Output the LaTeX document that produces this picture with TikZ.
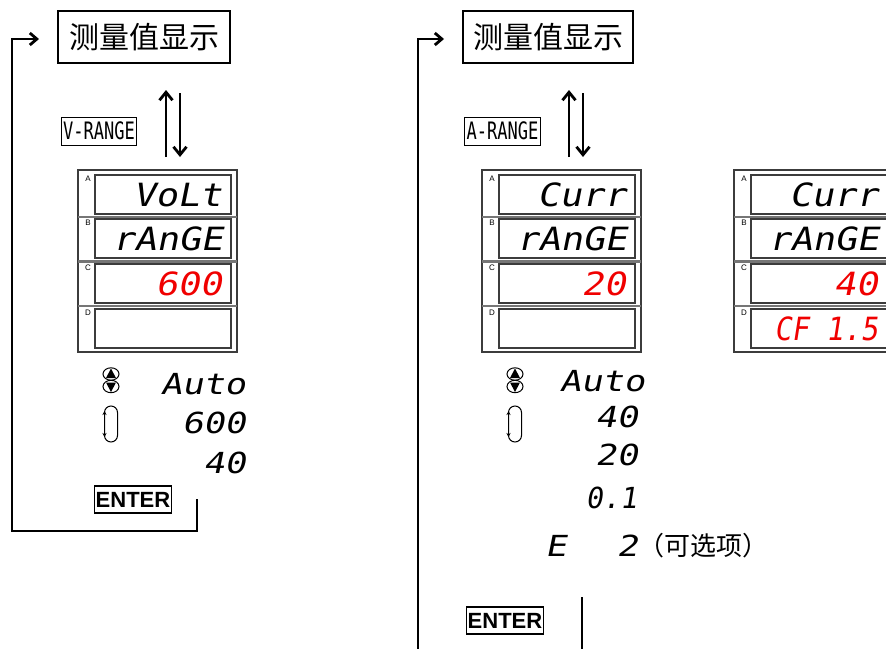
\documentclass[tikz,border=0pt]{standalone}
\usepackage{fontspec}
\setmainfont{Liberation Sans}
\newfontfamily\cjk{Noto Sans CJK SC}
\newfontfamily\segA[FakeSlant=0.2,FakeStretch=1.15]{DejaVu Sans Mono}
\newfontfamily\segB[FakeSlant=0.2,FakeStretch=1.22]{DejaVu Sans Mono}
\newfontfamily\monof{DejaVu Sans Mono}
\usetikzlibrary{arrows.meta}
\definecolor{segred}{RGB}{240,0,0}
\definecolor{frame}{RGB}{60,60,60}
\tikzset{
  titlebox/.style={draw, line width=1.1pt, minimum width=172pt, minimum height=52pt, inner sep=0pt, font=\cjk\fontsize{30}{30}\selectfont},
  rangebox/.style={draw, line width=1pt, minimum height=28pt, inner sep=2pt, font=\monof\fontsize{24}{24}\selectfont},
  enterbox/.style={draw, line width=1.1pt, minimum height=27pt, inner sep=1.5pt, font=\bfseries\fontsize{22}{22}\selectfont},
  panelout/.style={draw=frame, line width=1.4pt, minimum width=159pt, minimum height=182pt, inner sep=0pt},
  cell/.style={draw=frame, line width=1.4pt, minimum width=136pt, minimum height=39pt, inner sep=0pt},
  sepline/.style={draw=frame!70, line width=2.2pt},
  rowlab/.style={font=\fontsize{8}{8}\selectfont, inner sep=0pt},
  segtext/.style={anchor=east, inner sep=0pt, font=\segA\fontsize{32}{32}\selectfont},
  segsmall/.style={anchor=east, inner sep=0pt, font=\segB\fontsize{29}{29}\selectfont},
  flow/.style={line width=2.8pt, -{Straight Barb[length=8pt,width=13pt]}},
  fbackarrow/.style={line width=2.8pt, -{Straight Barb[length=7pt,width=12pt]}},
}
\newcommand{\mypanel}[6]{%
  \begin{scope}[xshift=#1pt]
    \node[panelout] (#2) at (157.5,261) {};
    \draw[sepline] (78,217) -- (237,217);
    \draw[sepline] (78,261.5) -- (237,261.5);
    \draw[sepline] (78,306) -- (237,306);
    \node[cell] (#2A) at (163,194.5) {};
    \node[cell] (#2B) at (163,238.5) {};
    \node[cell] (#2C) at (163,283.5) {};
    \node[cell] (#2D) at (163,328.5) {};
    \node[rowlab] (#2la) at (88,179) {A};
    \node[rowlab] (#2lb) at (88,223) {B};
    \node[rowlab] (#2lc) at (88,268) {C};
    \node[rowlab] (#2ld) at (88,313) {D};
    \node[segtext] (#2ta) at (222,195) {#3};
    \node[segtext] (#2tb) at (223,239) {#4};
    \node[segtext, text=segred] (#2tc) at (222,284) {#5};
    \node[segtext, text=segred] (#2td) at (222,329) {#6};
  \end{scope}}
\newcommand{\myicons}[2]{%
  \begin{scope}[shift={(#1,0)}]
    \draw[line width=1pt] (0,374) ellipse [x radius=8pt, y radius=6.2pt];
    \draw[line width=1pt] (0,386.5) ellipse [x radius=8pt, y radius=6.2pt];
    \fill (0,368.5) -- (-5,378) -- (5,378) -- cycle;
    \fill (0,392) -- (-5,382.5) -- (5,382.5) -- cycle;
    \draw[line width=1pt, rounded corners=6.5pt] (-6.5,406) rectangle (6.5,442);
    \draw[line width=1pt, {Stealth[length=4pt,width=4pt]}-{Stealth[length=4pt,width=4pt]}] (-6.5,411) -- (-6.5,437);
    \node[inner sep=0pt] (#2) at (0,424) {};
  \end{scope}}
\begin{document}
\begin{tikzpicture}[x=1pt,y=-1pt]
\clip (0,0) rectangle (886,648);
\fill[white] (0,0) rectangle (886,648);

% ---------- left column ----------
\node[titlebox] (t1) at (144,37) {测量值显示};
\node[rangebox] (vr) at (99,131) {\scalebox{0.71}[1]{V-RANGE}};
\coordinate (u1a) at (166,157);
\coordinate (u1b) at (166,90);
\coordinate (d1a) at (180,93);
\coordinate (d1b) at (180,157);
\draw[flow] (u1a) -- (u1b);
\draw[flow] (d1a) -- (d1b);
\mypanel{0}{p1}{VoLt}{rAnGE}{600}{}
\myicons{111}{ic1}
\node[segsmall] (l1a) at (246,384) {Auto};
\node[segsmall] (l1b) at (246,423) {600};
\node[segsmall] (l1c) at (246,463) {40};
\node[enterbox] (en1) at (133,499.5) {ENTER};
\coordinate (f1a) at (197,499);
\coordinate (f1b) at (197,531);
\coordinate (f1c) at (12,531);
\coordinate (f1d) at (12,39);
\coordinate (f1e) at (39,39);
\draw[fbackarrow] (f1a) -- (f1b) -- (f1c) -- (f1d) -- (f1e);

% ---------- right column ----------
\node[titlebox, minimum width=170pt] (t2) at (548,37) {测量值显示};
\node[rangebox] (ar) at (502.5,131) {\scalebox{0.71}[1]{A-RANGE}};
\coordinate (u2a) at (569,157);
\coordinate (u2b) at (569,90);
\coordinate (d2a) at (583,93);
\coordinate (d2b) at (583,157);
\draw[flow] (u2a) -- (u2b);
\draw[flow] (d2a) -- (d2b);
\mypanel{404}{p2}{Curr}{rAnGE}{20}{}
\mypanel{656}{p3}{Curr}{rAnGE}{40}{\scalebox{0.78}[1]{CF 1.5}}
\myicons{515}{ic2}
\node[segsmall] (l2a) at (645,381) {Auto};
\node[segsmall] (l2b) at (638,417) {40};
\node[segsmall] (l2c) at (638,455) {20};
\node[segsmall] (l2d) at (637,498) {\scalebox{0.8}[1]{0.1}};
\node[segsmall, anchor=west] (l2e) at (545,546) {E};
\node[segsmall] (l2f) at (638,546) {2};
\node[anchor=west, inner sep=0pt, font=\cjk\fontsize{26}{26}\selectfont] (opt) at (l2f.east) {（可选项）};
\node[enterbox] (en2) at (505,620.5) {ENTER};
\coordinate (f2a) at (582,597);
\coordinate (f2b) at (582,660);
\coordinate (f2c) at (418,660);
\coordinate (f2d) at (418,39);
\coordinate (f2e) at (444,39);
\draw[fbackarrow] (f2a) -- (f2b) -- (f2c) -- (f2d) -- (f2e);
\end{tikzpicture}
\end{document}
